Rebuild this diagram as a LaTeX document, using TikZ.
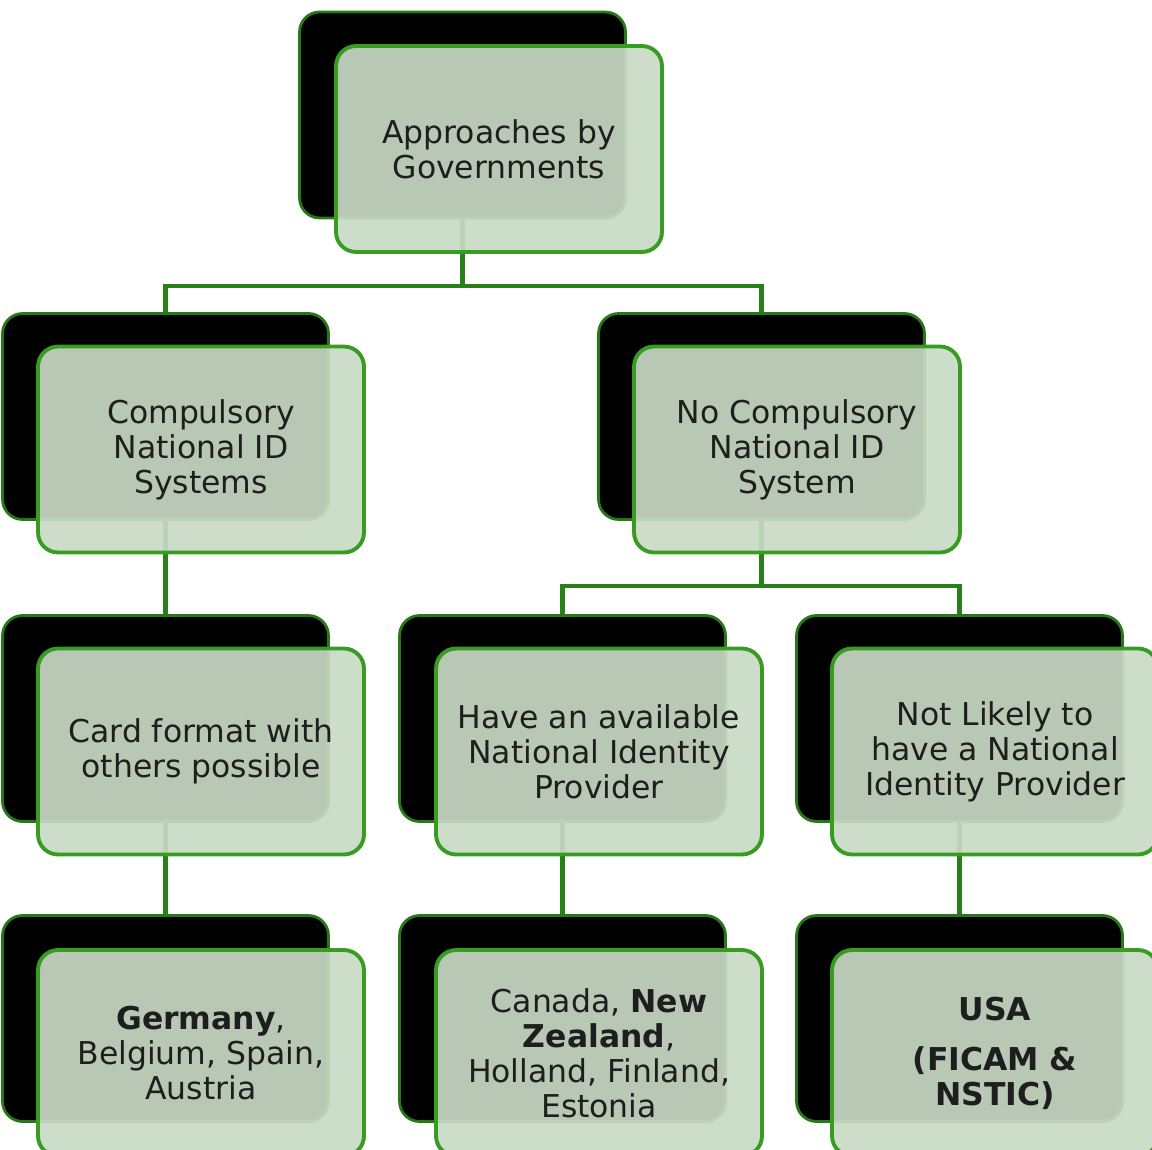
\documentclass[tikz,border=0pt]{standalone}
\usepackage{fontspec}
\setmainfont{DejaVu Sans}
\usetikzlibrary{backgrounds}
\definecolor{boxfill}{RGB}{200,218,196}
\definecolor{boxedge}{RGB}{56,156,34}
\definecolor{backedge}{RGB}{38,122,22}
\definecolor{linkgreen}{RGB}{40,128,24}
\definecolor{txt}{RGB}{30,30,30}
\begin{document}
\begin{tikzpicture}[x=0.02cm, y=-0.02cm, line join=round, font=\fontsize{17.9pt}{19.9pt}\selectfont,
    backbox/.style={rectangle, rounded corners=0.4cm, fill=black, draw=backedge, line width=1.6pt, minimum width=6.52cm, minimum height=4.12cm, inner sep=0pt},
    frontbox/.style={rectangle, rounded corners=0.4cm, fill=boxfill, fill opacity=0.92, text opacity=1, draw=boxedge, line width=2.2pt, minimum width=6.52cm, minimum height=4.12cm, inner sep=0pt, align=center, text=txt},
    link/.style={draw=linkgreen, line width=2.4pt}]
	\clip (0,0) rectangle (1152,1149);
	\node[backbox] (root-bg) at (462.5,115) {};
	\node[frontbox] (root) at (499,149) {Approaches by\\Governments};
	\node[backbox] (comp-bg) at (165.5,416.5) {};
	\node[frontbox] (comp) at (201,449.5) {Compulsory\\National ID\\Systems};
	\node[backbox] (nocomp-bg) at (761.5,416.5) {};
	\node[frontbox] (nocomp) at (797,449.5) {No Compulsory\\National ID\\System};
	\node[backbox] (card-bg) at (165.5,718.5) {};
	\node[frontbox] (card) at (201,751.5) {Card format with\\others possible};
	\node[backbox] (avail-bg) at (562.5,718.5) {};
	\node[frontbox] (avail) at (599,751.5) {Have an available\\National Identity\\Provider};
	\node[backbox] (likely-bg) at (959.5,718.5) {};
	\node[frontbox] (likely) at (995,751.5) {Not Likely to\\have a National\\Identity Provider};
	\node[backbox] (germ-bg) at (165.5,1018.5) {};
	\node[frontbox] (germ) at (201,1053) {\textbf{Germany},\\Belgium, Spain,\\Austria};
	\node[backbox] (canada-bg) at (562.5,1018.5) {};
	\node[frontbox] (canada) at (599,1053) {Canada, \textbf{New}\\\textbf{Zealand},\\Holland, Finland,\\Estonia};
	\node[backbox] (usa-bg) at (959.5,1018.5) {};
	\node[frontbox] (usa) at (995,1053) {\textbf{USA}\\[0.3cm]\textbf{(FICAM \&}\\\textbf{NSTIC)}};
	\begin{scope}[on background layer]
		\draw[link] (root-bg.south) -- ++(0,67) coordinate (fork1);
		\draw[link] (fork1) -| (comp-bg.north);
		\draw[link] (fork1) -| (nocomp-bg.north);
		\draw[link] (comp-bg.south) -- (card-bg.north);
		\draw[link] (nocomp-bg.south) -- ++(0,65) coordinate (fork2);
		\draw[link] (fork2) -| (avail-bg.north);
		\draw[link] (fork2) -| (likely-bg.north);
		\draw[link] (card-bg.south) -- (germ-bg.north);
		\draw[link] (avail-bg.south) -- (canada-bg.north);
		\draw[link] (likely-bg.south) -- (usa-bg.north);
	\end{scope}
\end{tikzpicture}
\end{document}
